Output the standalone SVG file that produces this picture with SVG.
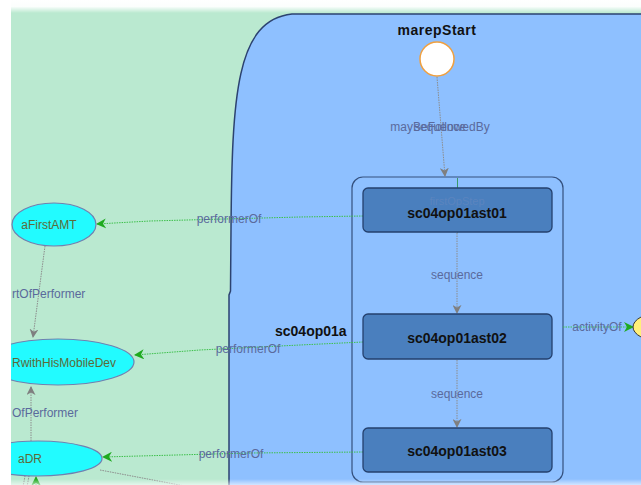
<svg xmlns="http://www.w3.org/2000/svg" width="641" height="485" viewBox="0 0 641 485">
<defs>
<linearGradient id="topFade" x1="0" y1="0" x2="0" y2="1">
<stop offset="0" stop-color="#ffffff" stop-opacity="1"/>
<stop offset="0.5" stop-color="#ffffff" stop-opacity="0.95"/>
<stop offset="1" stop-color="#ffffff" stop-opacity="0"/>
</linearGradient>
<linearGradient id="botFade" x1="0" y1="0" x2="0" y2="1">
<stop offset="0" stop-color="#ffffff" stop-opacity="0"/>
<stop offset="1" stop-color="#ffffff" stop-opacity="0.6"/>
</linearGradient>
<marker id="arrGrey" viewBox="0 0 10 10" refX="9" refY="5" markerWidth="9" markerHeight="9" markerUnits="userSpaceOnUse" orient="auto">
<path d="M0,0 L10,5 L0,10 L3,5 Z" fill="#7f7f7f"/>
</marker>
<marker id="arrGreen" viewBox="0 0 10 10" refX="9" refY="5" markerWidth="10" markerHeight="10" markerUnits="userSpaceOnUse" orient="auto">
<path d="M0,0 L10,5 L0,10 L3,5 Z" fill="#1faa1f"/>
</marker>
<marker id="arrTeal" viewBox="0 0 10 10" refX="9" refY="5" markerWidth="9" markerHeight="9" markerUnits="userSpaceOnUse" orient="auto">
<path d="M0,0 L10,5 L0,10 L3,5 Z" fill="#3a8a6a"/>
</marker>
</defs>
<style>
.lbl{font-family:"Liberation Sans",Arial,sans-serif;font-size:12px;fill:#5a6a9c}
.bold{font-family:"Liberation Sans",Arial,sans-serif;font-size:14px;font-weight:bold;fill:#111111}
.nlbl{font-family:"Liberation Sans",Arial,sans-serif;font-size:12px;fill:#5c6a38}
.grey{stroke:#8c8c8c;stroke-width:1;stroke-dasharray:1.5 1;fill:none}
.green{stroke:#3cc04a;stroke-width:1;stroke-dasharray:1.5 1;fill:none}
.cyan{fill:#22fbff;stroke:#7080b0;stroke-width:1.2}
.task{fill:#4a7fbe;stroke:#24406e;stroke-width:1.3}
</style>

<!-- background -->
<rect x="0" y="0" width="641" height="485" fill="#bae9d0"/>

<!-- big activity region -->
<g id="region">
<path d="M229 486 L229 295 L230.5 291 L231 230 C232 95 236 20 292 14 L642 14 L642 486 Z" fill="#8ec0ff" stroke="#2c4270" stroke-width="1.5"/>
</g>

<!-- container of tasks -->
<g id="sc04op01a">
<rect x="352" y="177" width="211" height="305" rx="11" ry="11" fill="none" stroke="#34507e" stroke-width="1.2"/>
<text class="bold" x="275" y="336">sc04op01a</text>
</g>

<!-- connectors -->
<g id="connectors">
<line class="grey" x1="437" y1="77" x2="445" y2="176" marker-end="url(#arrGrey)"/>
<text class="lbl" x="440" y="131" text-anchor="middle">mayBeFollowedBy</text>
<text class="lbl" x="440" y="131" text-anchor="middle">sequence</text>

<line stroke="#3a9a6a" stroke-width="1" x1="457.5" y1="178" x2="457.5" y2="232" marker-end="url(#arrTeal)"/>

<line class="grey" x1="457" y1="233" x2="457" y2="313" marker-end="url(#arrGrey)"/>
<text class="lbl" x="457" y="279" text-anchor="middle">sequence</text>
<line class="grey" x1="457" y1="360" x2="457" y2="427" marker-end="url(#arrGrey)"/>
<text class="lbl" x="457" y="398" text-anchor="middle">sequence</text>

<polyline class="green" points="363,216 300,217 150,221 97,224" marker-end="url(#arrGreen)"/>
<text class="lbl" x="229" y="223" text-anchor="middle">performerOf</text>
<polyline class="green" points="363,342 300,345 200,350 135,355" marker-end="url(#arrGreen)"/>
<text class="lbl" x="248" y="353" text-anchor="middle">performerOf</text>
<polyline class="green" points="363,452 250,453 103,457" marker-end="url(#arrGreen)"/>
<text class="lbl" x="231" y="458" text-anchor="middle">performerOf</text>

<line class="green" x1="563" y1="327" x2="633" y2="327" marker-end="url(#arrGreen)"/>
<text class="lbl" x="597" y="331" text-anchor="middle">activityOf</text>

<line class="grey" x1="45" y1="246" x2="33" y2="337" marker-end="url(#arrGrey)"/>
<text class="lbl" x="12" y="298">rtOfPerformer</text>
<line class="grey" x1="31" y1="441" x2="31" y2="387" marker-end="url(#arrGrey)"/>
<text class="lbl" x="12" y="417">OfPerformer</text>

<line class="grey" x1="100" y1="470" x2="190" y2="487"/>
<line class="grey" x1="23" y1="487" x2="25" y2="476"/>
<line class="grey" x1="27" y1="487" x2="29" y2="476"/>
<line class="green" x1="36" y1="490" x2="36" y2="477" marker-end="url(#arrGreen)"/>
</g>

<!-- start node -->
<g id="marepStart">
<circle cx="437" cy="59" r="17" fill="#ffffff" stroke="#f0a040" stroke-width="1.5"/>
<text class="bold" x="437" y="35" text-anchor="middle" letter-spacing="0.5">marepStart</text>
</g>

<!-- tasks -->
<g id="sc04op01ast01">
<rect class="task" x="363" y="188" width="189" height="44" rx="5" ry="5"/>
<text class="lbl" x="457" y="205" text-anchor="middle" fill-opacity="0.35" style="fill:#7d90c0;font-size:11px">firstOpStep</text>
<text class="bold" x="457" y="218" text-anchor="middle">sc04op01ast01</text>
</g>
<g id="sc04op01ast02">
<rect class="task" x="363" y="314" width="189" height="45" rx="5" ry="5"/>
<text class="bold" x="457" y="343" text-anchor="middle">sc04op01ast02</text>
</g>
<g id="sc04op01ast03">
<rect class="task" x="363" y="428" width="189" height="44" rx="5" ry="5"/>
<text class="bold" x="457" y="456" text-anchor="middle">sc04op01ast03</text>
</g>

<!-- performer ellipses -->
<g id="aFirstAMT">
<ellipse class="cyan" cx="54" cy="224.5" rx="42" ry="21.5"/>
<text class="nlbl" x="49" y="229" text-anchor="middle">aFirstAMT</text>
</g>
<g id="aDRwithHisMobileDev">
<ellipse class="cyan" cx="58" cy="362" rx="76" ry="23"/>
<text class="nlbl" x="12" y="367">RwithHisMobileDev</text>
</g>
<g id="aDR">
<ellipse class="cyan" cx="38" cy="458.5" rx="64" ry="17.5"/>
<text class="nlbl" x="30" y="463" text-anchor="middle">aDR</text>
</g>

<!-- partially visible yellow node -->
<g id="activityNode">
<ellipse cx="660" cy="327" rx="27" ry="14" fill="#fff07a" stroke="#333333" stroke-width="1"/>
</g>

<!-- frame fades -->
<rect x="0" y="0" width="641" height="13" fill="url(#topFade)"/>
<rect x="0" y="479" width="641" height="6" fill="url(#botFade)"/>
<rect x="0" y="0" width="11" height="485" fill="#ffffff"/>
</svg>
